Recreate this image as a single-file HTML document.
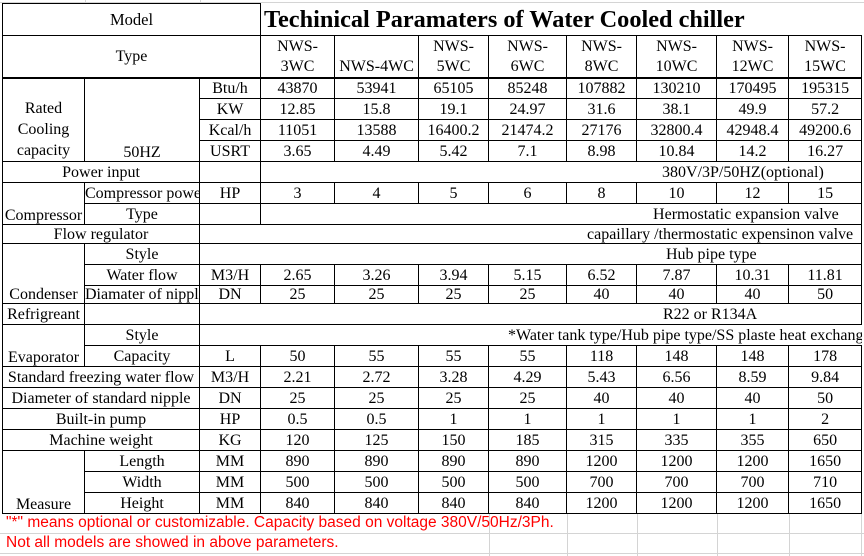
<!DOCTYPE html>
<html><head><meta charset="utf-8"><style>
html,body{margin:0;padding:0;width:864px;height:556px;overflow:hidden;background:#fff;position:relative}
.grid{position:absolute;background:#d4d4d4}
table{position:absolute;left:2px;top:3px;width:859px;border-collapse:collapse;table-layout:fixed;font-family:"Liberation Serif",serif;font-size:16px;color:#000}
td{border:1px solid #000;padding:0;text-align:center;white-space:nowrap;overflow:hidden;line-height:17px;vertical-align:middle}
.b{vertical-align:bottom}
.l{text-align:left}
.note{position:absolute;left:6px;font-family:"Liberation Sans",sans-serif;font-size:15.5px;color:#f00;white-space:nowrap}
</style></head><body>
<div class="grid" style="left:0;top:2px;width:864px;height:1px"></div>
<div class="grid" style="left:0;top:533px;width:864px;height:1px"></div>
<div class="grid" style="left:0;top:553px;width:864px;height:1px"></div>
<div class="grid" style="left:85px;top:0;width:1px;height:3px"></div>
<div class="grid" style="left:200px;top:0;width:1px;height:3px"></div>
<div class="grid" style="left:489px;top:513px;width:1px;height:43px"></div>
<div class="grid" style="left:567px;top:513px;width:1px;height:43px"></div>
<div class="grid" style="left:637px;top:513px;width:1px;height:43px"></div>
<div class="grid" style="left:717px;top:513px;width:1px;height:43px"></div>
<div class="grid" style="left:789px;top:513px;width:1px;height:43px"></div>
<div class="grid" style="left:861px;top:513px;width:1px;height:43px"></div>
<table>
<colgroup><col style="width:82px"><col style="width:115px"><col style="width:61px"><col style="width:74px"><col style="width:84px"><col style="width:70px"><col style="width:78px"><col style="width:70px"><col style="width:80px"><col style="width:72px"><col style="width:73px"></colgroup>
<tr style="height:32px"><td colspan="3" style="font-size:16.5px">Model</td><td colspan="8" class="l" style="border-top:none;border-right:none;font-weight:bold;font-size:24.3px;padding-left:3px;line-height:26px;vertical-align:top;padding-top:3px">Techinical Paramaters of Water Cooled chiller</td></tr>
<tr style="height:42px;border-bottom:2px solid #000"><td colspan="3">Type</td>
<td class="b" style="line-height:20px">NWS-<br>3WC</td><td class="b" style="line-height:20px">NWS-4WC</td><td class="b" style="line-height:20px">NWS-<br>5WC</td><td class="b" style="line-height:20px">NWS-<br>6WC</td><td class="b" style="line-height:20px">NWS-<br>8WC</td><td class="b" style="line-height:20px">NWS-<br>10WC</td><td class="b" style="line-height:20px">NWS-<br>12WC</td><td class="b" style="line-height:20px">NWS-<br>15WC</td></tr>
<tr style="height:21px"><td rowspan="4" class="b" style="line-height:21px">Rated<br>Cooling<br>capacity</td><td rowspan="4" class="b">50HZ</td><td>Btu/h</td><td>43870</td><td>53941</td><td>65105</td><td>85248</td><td>107882</td><td>130210</td><td>170495</td><td>195315</td></tr>
<tr style="height:21px"><td>KW</td><td>12.85</td><td>15.8</td><td>19.1</td><td>24.97</td><td>31.6</td><td>38.1</td><td>49.9</td><td>57.2</td></tr>
<tr style="height:21px"><td>Kcal/h</td><td>11051</td><td>13588</td><td>16400.2</td><td>21474.2</td><td>27176</td><td>32800.4</td><td>42948.4</td><td>49200.6</td></tr>
<tr style="height:21px"><td>USRT</td><td>3.65</td><td>4.49</td><td>5.42</td><td>7.1</td><td>8.98</td><td>10.84</td><td>14.2</td><td>16.27</td></tr>
<tr style="height:21px"><td colspan="2">Power input</td><td></td><td colspan="8" class="l" style="padding-left:401px">380V/3P/50HZ(optional)</td></tr>
<tr style="height:21px"><td rowspan="2" class="b">Compressor</td><td class="l">Compressor power</td><td>HP</td><td>3</td><td>4</td><td>5</td><td>6</td><td>8</td><td>10</td><td>12</td><td>15</td></tr>
<tr style="height:21px"><td>Type</td><td></td><td colspan="8" class="l" style="padding-left:392px">Hermostatic expansion valve</td></tr>
<tr style="height:19px"><td colspan="2">Flow regulator</td><td colspan="9" class="l" style="padding-left:387px">capaillary /thermostatic expensinon valve</td></tr>
<tr style="height:21px"><td rowspan="3" class="b">Condenser</td><td>Style</td><td colspan="9" class="l" style="padding-left:466px">Hub pipe type</td></tr>
<tr style="height:21px"><td>Water flow</td><td>M3/H</td><td>2.65</td><td>3.26</td><td>3.94</td><td>5.15</td><td>6.52</td><td>7.87</td><td>10.31</td><td>11.81</td></tr>
<tr style="height:18px"><td>Diamater of nipple</td><td>DN</td><td>25</td><td>25</td><td>25</td><td>25</td><td>40</td><td>40</td><td>40</td><td>50</td></tr>
<tr style="height:21px"><td>Refrigreant</td><td></td><td colspan="9" class="l" style="padding-left:463px">R22 or R134A</td></tr>
<tr style="height:21px"><td rowspan="2" class="b">Evaporator</td><td>Style</td><td colspan="9" class="l" style="padding-left:308px;border-right:none">*Water tank type/Hub pipe type/SS plaste heat exchanger</td></tr>
<tr style="height:21px"><td>Capacity</td><td>L</td><td>50</td><td>55</td><td>55</td><td>55</td><td>118</td><td>148</td><td>148</td><td>178</td></tr>
<tr style="height:21px"><td colspan="2">Standard freezing water flow</td><td>M3/H</td><td>2.21</td><td>2.72</td><td>3.28</td><td>4.29</td><td>5.43</td><td>6.56</td><td>8.59</td><td>9.84</td></tr>
<tr style="height:21px"><td colspan="2">Diameter of standard nipple</td><td>DN</td><td>25</td><td>25</td><td>25</td><td>25</td><td>40</td><td>40</td><td>40</td><td>50</td></tr>
<tr style="height:21px"><td colspan="2">Built-in pump</td><td>HP</td><td>0.5</td><td>0.5</td><td>1</td><td>1</td><td>1</td><td>1</td><td>1</td><td>2</td></tr>
<tr style="height:21px"><td colspan="2">Machine weight</td><td>KG</td><td>120</td><td>125</td><td>150</td><td>185</td><td>315</td><td>335</td><td>355</td><td>650</td></tr>
<tr style="height:21px"><td rowspan="3" class="b">Measure</td><td>Length</td><td>MM</td><td>890</td><td>890</td><td>890</td><td>890</td><td>1200</td><td>1200</td><td>1200</td><td>1650</td></tr>
<tr style="height:21px"><td>Width</td><td>MM</td><td>500</td><td>500</td><td>500</td><td>500</td><td>700</td><td>700</td><td>700</td><td>710</td></tr>
<tr style="height:21px"><td>Height</td><td>MM</td><td>840</td><td>840</td><td>840</td><td>840</td><td>1200</td><td>1200</td><td>1200</td><td>1650</td></tr>
</table>
<div class="note" style="top:514px">"*" means optional or customizable. Capacity based on voltage 380V/50Hz/3Ph.</div>
<div class="note" style="top:534px">Not all models are showed in above parameters.</div>
</body></html>
